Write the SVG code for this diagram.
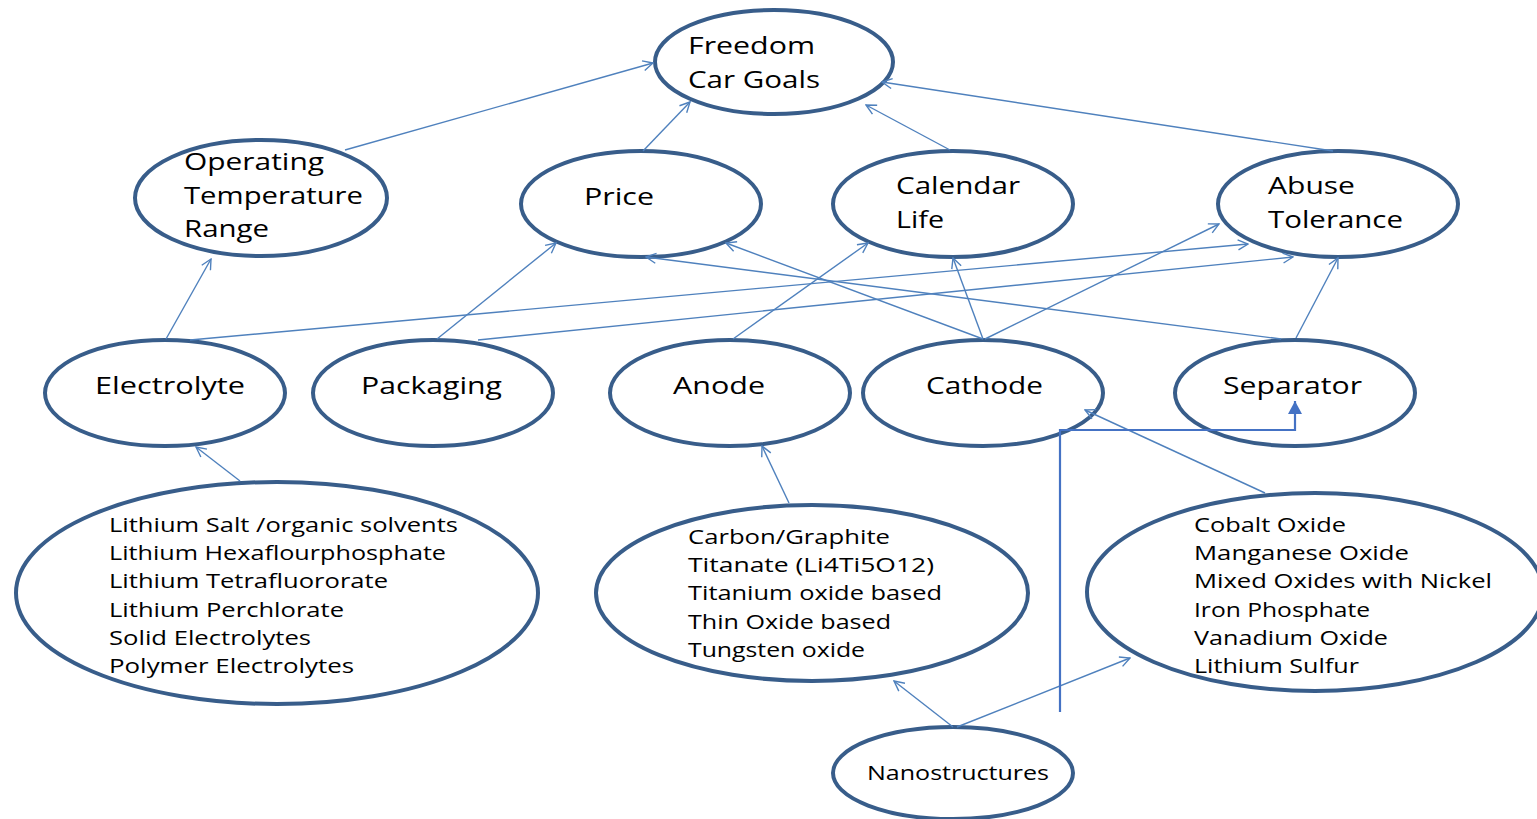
<svg xmlns="http://www.w3.org/2000/svg" width="1537" height="819" viewBox="0 0 1537 819">
<defs>
<style>
.n{fill:#fff;stroke:#385d8a;stroke-width:4}
.t{font-family:"Open Sans","Liberation Sans",sans-serif;font-size:24px;fill:#000}
.s{font-family:"Open Sans","Liberation Sans",sans-serif;font-size:20.5px;fill:#000}
.c{fill:none;stroke:#4f81bd;stroke-width:1.4;marker-end:url(#a)}
.e{fill:none;stroke:#4472c4;stroke-width:2.2;marker-end:url(#f)}
</style>
<marker id="a" viewBox="0 0 12 12" refX="11" refY="6" markerWidth="12" markerHeight="12" markerUnits="userSpaceOnUse" orient="auto"><path d="M1,1 L11,6 L1,11" fill="none" stroke="#4f81bd" stroke-width="1.4"/></marker>
<marker id="f" viewBox="0 0 13 14" refX="13" refY="7" markerWidth="13" markerHeight="14" markerUnits="userSpaceOnUse" orient="auto"><path d="M0,0 L13,7 L0,14 Z" fill="#4472c4"/></marker>
</defs>
<rect width="1537" height="819" fill="#fff"/>
<g id="freedom"><ellipse class="n" cx="774" cy="62" rx="119" ry="52"/><text class="t" x="688" y="54" textLength="127" lengthAdjust="spacingAndGlyphs">Freedom</text><text class="t" x="688" y="88" textLength="132" lengthAdjust="spacingAndGlyphs">Car Goals</text></g>
<g id="otr"><ellipse class="n" cx="261" cy="198" rx="126" ry="58"/><text class="t" x="184" y="170" textLength="140" lengthAdjust="spacingAndGlyphs">Operating</text><text class="t" x="184" y="204" textLength="179" lengthAdjust="spacingAndGlyphs">Temperature</text><text class="t" x="184" y="237" textLength="85" lengthAdjust="spacingAndGlyphs">Range</text></g>
<g id="price"><ellipse class="n" cx="641" cy="204" rx="120" ry="53"/><text class="t" x="584" y="205" textLength="70" lengthAdjust="spacingAndGlyphs">Price</text></g>
<g id="calendar"><ellipse class="n" cx="953" cy="204" rx="120" ry="53"/><text class="t" x="896" y="194" textLength="124" lengthAdjust="spacingAndGlyphs">Calendar</text><text class="t" x="896" y="228" textLength="48" lengthAdjust="spacingAndGlyphs">Life</text></g>
<g id="abuse"><ellipse class="n" cx="1338" cy="204" rx="120" ry="53"/><text class="t" x="1268" y="194" textLength="87" lengthAdjust="spacingAndGlyphs">Abuse</text><text class="t" x="1268" y="228" textLength="135" lengthAdjust="spacingAndGlyphs">Tolerance</text></g>
<g id="electrolyte"><ellipse class="n" cx="165" cy="393" rx="120" ry="53"/><text class="t" x="95" y="394" textLength="150" lengthAdjust="spacingAndGlyphs">Electrolyte</text></g>
<g id="packaging"><ellipse class="n" cx="433" cy="393" rx="120" ry="53"/><text class="t" x="361" y="394" textLength="141" lengthAdjust="spacingAndGlyphs">Packaging</text></g>
<g id="anode"><ellipse class="n" cx="730" cy="393" rx="120" ry="53"/><text class="t" x="673" y="394" textLength="92" lengthAdjust="spacingAndGlyphs">Anode</text></g>
<g id="cathode"><ellipse class="n" cx="983" cy="393" rx="120" ry="53"/><text class="t" x="926" y="394" textLength="117" lengthAdjust="spacingAndGlyphs">Cathode</text></g>
<g id="separator"><ellipse class="n" cx="1295" cy="393" rx="120" ry="53"/><text class="t" x="1223" y="394" textLength="139" lengthAdjust="spacingAndGlyphs">Separator</text></g>
<g id="electrolyte-materials"><ellipse class="n" cx="277" cy="593" rx="261" ry="111"/>
<text class="s" x="109" y="532" textLength="349" lengthAdjust="spacingAndGlyphs">Lithium Salt /organic solvents</text>
<text class="s" x="109" y="560" textLength="337" lengthAdjust="spacingAndGlyphs">Lithium Hexaflourphosphate</text>
<text class="s" x="109" y="588" textLength="279" lengthAdjust="spacingAndGlyphs">Lithium Tetrafluororate</text>
<text class="s" x="109" y="617" textLength="235" lengthAdjust="spacingAndGlyphs">Lithium Perchlorate</text>
<text class="s" x="109" y="645" textLength="202" lengthAdjust="spacingAndGlyphs">Solid Electrolytes</text>
<text class="s" x="109" y="673" textLength="245" lengthAdjust="spacingAndGlyphs">Polymer Electrolytes</text></g>
<g id="anode-materials"><ellipse class="n" cx="812" cy="593" rx="216" ry="88"/>
<text class="s" x="688" y="544" textLength="202" lengthAdjust="spacingAndGlyphs">Carbon/Graphite</text>
<text class="s" x="688" y="572" textLength="246" lengthAdjust="spacingAndGlyphs">Titanate (Li4Ti5O12)</text>
<text class="s" x="688" y="600" textLength="254" lengthAdjust="spacingAndGlyphs">Titanium oxide based</text>
<text class="s" x="688" y="629" textLength="203" lengthAdjust="spacingAndGlyphs">Thin Oxide based</text>
<text class="s" x="688" y="657" textLength="177" lengthAdjust="spacingAndGlyphs">Tungsten oxide</text></g>
<g id="cathode-materials"><ellipse class="n" cx="1315" cy="592" rx="228" ry="99"/>
<text class="s" x="1194" y="532" textLength="152" lengthAdjust="spacingAndGlyphs">Cobalt Oxide</text>
<text class="s" x="1194" y="560" textLength="215" lengthAdjust="spacingAndGlyphs">Manganese Oxide</text>
<text class="s" x="1194" y="588" textLength="298" lengthAdjust="spacingAndGlyphs">Mixed Oxides with Nickel</text>
<text class="s" x="1194" y="617" textLength="176" lengthAdjust="spacingAndGlyphs">Iron Phosphate</text>
<text class="s" x="1194" y="645" textLength="194" lengthAdjust="spacingAndGlyphs">Vanadium Oxide</text>
<text class="s" x="1194" y="673" textLength="165" lengthAdjust="spacingAndGlyphs">Lithium Sulfur</text></g>
<g id="nanostructures"><ellipse class="n" cx="953" cy="773" rx="120" ry="46"/><text class="s" x="867" y="780" textLength="182" lengthAdjust="spacingAndGlyphs">Nanostructures</text></g>
<g id="connectors">
<path class="c" d="M345,150 L653,63"/>
<path class="c" d="M643,151 L690,102"/>
<path class="c" d="M950,150 L866,105"/>
<path class="c" d="M1333,151 L882,82"/>
<path class="c" d="M166,339 L211,259"/>
<path class="c" d="M190,340 L1248,244"/>
<path class="c" d="M437,339 L556,243"/>
<path class="c" d="M478,340 L1293,257"/>
<path class="c" d="M733,339 L868,243"/>
<path class="c" d="M983,339 L726,243"/>
<path class="c" d="M983,339 L953,258"/>
<path class="c" d="M985,339 L1219,224"/>
<path class="c" d="M1281,339 L646,257"/>
<path class="c" d="M1296,338 L1338,258"/>
<path class="c" d="M240,481 L196,447"/>
<path class="c" d="M789,503 L762,446"/>
<path class="c" d="M1265,493 L1085,410"/>
<path class="c" d="M953,727 L894,681"/>
<path class="c" d="M957,727 L1130,658"/>
<path class="e" d="M1060,712 L1060,430 L1295,430 L1295,401"/>
</g>
</svg>
